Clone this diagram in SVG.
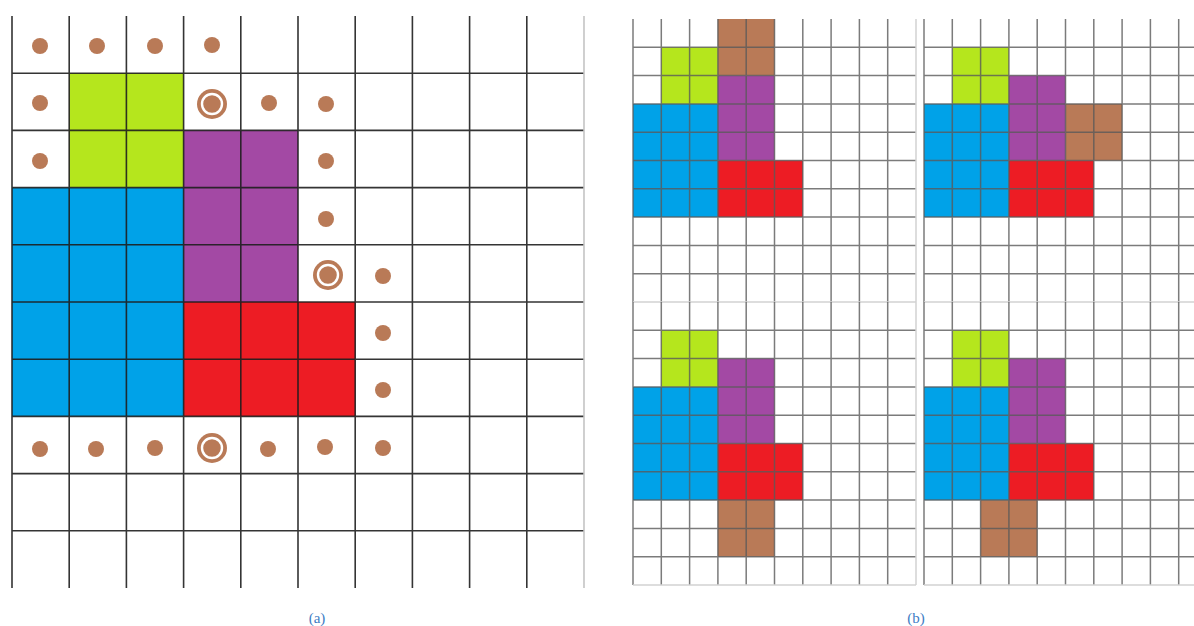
<svg xmlns="http://www.w3.org/2000/svg" xmlns:xlink="http://www.w3.org/1999/xlink" width="1194" height="626" viewBox="0 0 1194 626">
  <style>
    .lime{fill:#b5e61d}
    .purple{fill:#a349a4}
    .blue{fill:#00a2e8}
    .red{fill:#ed1c24}
    .brown{fill:#b97a57}
    .gridA{fill:none;stroke:#1e1e1e;stroke-width:1.6;stroke-opacity:0.9}
    .borderA{fill:none;stroke:#c4c4c4;stroke-width:1.6}
    .gridB{fill:none;stroke:#5a5a5a;stroke-width:1.5;stroke-opacity:0.8}
    .borderB{fill:none;stroke:#d2d2d2;stroke-width:1.5}
    .dot{fill:#b97a57}
    .ring{fill:none;stroke:#ffffff;stroke-width:2.4}
    .label{font-family:"Liberation Serif","Times New Roman",serif;font-size:15px;fill:#3d7cc4;text-anchor:middle}
  </style>
  <defs>
    <g id="baseShapes">
      <rect class="lime" x="28.3" y="28.3" width="56.6" height="56.6"/>
      <rect class="purple" x="84.9" y="56.6" width="56.6" height="84.9"/>
      <rect class="blue" x="0" y="84.9" width="84.9" height="113.2"/>
      <rect class="red" x="84.9" y="141.5" width="84.9" height="56.6"/>
    </g>
    <g id="subgrid">
      <path class="gridB" d="M0,0V283 M28.3,0V283 M56.6,0V283 M84.9,0V283 M113.2,0V283 M141.5,0V283 M169.8,0V283 M198.1,0V283 M226.4,0V283 M254.7,0V283 M0,28.3H283 M0,56.6H283 M0,84.9H283 M0,113.2H283 M0,141.5H283 M0,169.8H283 M0,198.1H283 M0,226.4H283 M0,254.7H283"/>
      <path class="borderB" d="M283,0V283 M0,283H283"/>
    </g>
    <g id="target">
      <circle class="dot" r="15"/>
      <circle class="ring" r="10"/>
    </g>
  </defs>
  <rect width="1194" height="626" fill="#ffffff"/>

  <g id="panel-a">
    <g id="a-blocks">
      <rect class="lime" x="69.2" y="73.2" width="114.4" height="114.4"/>
      <rect class="purple" x="183.6" y="130.4" width="114.4" height="171.6"/>
      <rect class="blue" x="12" y="187.6" width="171.6" height="228.8"/>
      <rect class="red" x="183.6" y="302" width="171.6" height="114.4"/>
    </g>
    <g id="a-grid">
      <path class="gridA" d="M12,16V588 M69.2,16V588 M126.4,16V588 M183.6,16V588 M240.8,16V588 M298,16V588 M355.2,16V588 M412.4,16V588 M469.6,16V588 M526.8,16V588 M12,73.2H584 M12,130.4H584 M12,187.6H584 M12,244.8H584 M12,302H584 M12,359.2H584 M12,416.4H584 M12,473.6H584 M12,530.8H584"/>
      <path class="borderA" d="M584,16V588"/>
    </g>
    <g id="a-dots">
      <circle class="dot" cx="40" cy="46" r="8"/>
      <circle class="dot" cx="97" cy="46" r="8"/>
      <circle class="dot" cx="155" cy="46" r="8"/>
      <circle class="dot" cx="212" cy="45" r="8"/>
      <circle class="dot" cx="40" cy="103" r="8"/>
      <use xlink:href="#target" href="#target" x="212" y="104"/>
      <circle class="dot" cx="269" cy="103" r="8"/>
      <circle class="dot" cx="326" cy="104" r="8"/>
      <circle class="dot" cx="40" cy="161" r="8"/>
      <circle class="dot" cx="326" cy="161" r="8"/>
      <circle class="dot" cx="326" cy="219" r="8"/>
      <use xlink:href="#target" href="#target" x="328" y="275"/>
      <circle class="dot" cx="383" cy="276" r="8"/>
      <circle class="dot" cx="383" cy="333" r="8"/>
      <circle class="dot" cx="383" cy="390" r="8"/>
      <circle class="dot" cx="40" cy="449" r="8"/>
      <circle class="dot" cx="96" cy="449" r="8"/>
      <circle class="dot" cx="155" cy="448" r="8"/>
      <use xlink:href="#target" href="#target" x="212" y="448"/>
      <circle class="dot" cx="268" cy="449" r="8"/>
      <circle class="dot" cx="325" cy="447" r="8"/>
      <circle class="dot" cx="383" cy="448" r="8"/>
    </g>
    <text class="label" x="317" y="623">(a)</text>
  </g>

  <g id="panel-b">
    <g id="b-top-left" transform="translate(633,19)">
      <rect class="brown" x="84.9" y="0" width="56.6" height="56.6"/>
      <use xlink:href="#baseShapes" href="#baseShapes"/>
      <use xlink:href="#subgrid" href="#subgrid"/>
    </g>
    <g id="b-top-right" transform="translate(924,19)">
      <rect class="brown" x="141.5" y="84.9" width="56.6" height="56.6"/>
      <use xlink:href="#baseShapes" href="#baseShapes"/>
      <use xlink:href="#subgrid" href="#subgrid"/>
    </g>
    <g id="b-bottom-left" transform="translate(633,302)">
      <rect class="brown" x="84.9" y="198.1" width="56.6" height="56.6"/>
      <use xlink:href="#baseShapes" href="#baseShapes"/>
      <use xlink:href="#subgrid" href="#subgrid"/>
    </g>
    <g id="b-bottom-right" transform="translate(924,302)">
      <rect class="brown" x="56.6" y="198.1" width="56.6" height="56.6"/>
      <use xlink:href="#baseShapes" href="#baseShapes"/>
      <use xlink:href="#subgrid" href="#subgrid"/>
    </g>
    <text class="label" x="916" y="623">(b)</text>
  </g>
</svg>
